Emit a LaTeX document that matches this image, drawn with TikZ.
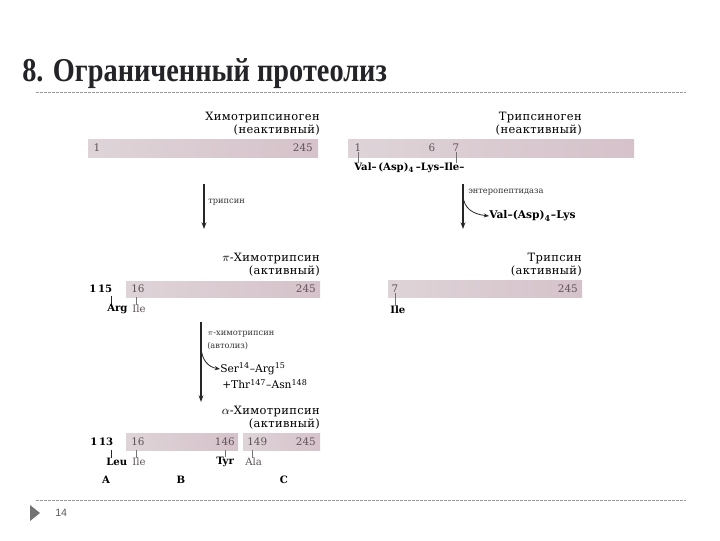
\documentclass[tikz,border=0pt]{standalone}
\usepackage{fontspec}
\setmainfont{DejaVu Serif}
\newfontfamily\titlefont{Liberation Serif}
\newfontfamily\labfont{DejaVu Serif}[LetterSpace=3]
\newfontfamily\pgfont{Liberation Sans}
\usetikzlibrary{arrows.meta}
\definecolor{barl}{RGB}{222,212,216}
\definecolor{barr}{RGB}{214,194,202}
\definecolor{numc}{RGB}{95,82,88}
\definecolor{titc}{RGB}{35,35,40}
\begin{document}
\begin{tikzpicture}[x=0.75pt,y=-0.75pt,
  lab/.style={font={\labfont\fontsize{8.6pt}{9pt}\selectfont}, inner sep=0pt, text=black},
  sm/.style={font={\fontsize{6.2pt}{7pt}\selectfont}, inner sep=0pt, text=black!80},
  num/.style={font={\fontsize{7.8pt}{8pt}\selectfont}, inner sep=0pt, text=numc},
  aa/.style={font={\bfseries\fontsize{7.6pt}{8pt}\selectfont}, inner sep=0pt, text=black},
  aag/.style={font={\fontsize{7.6pt}{8pt}\selectfont}, inner sep=0pt, text=numc},
  prod/.style={font={\fontsize{8pt}{9pt}\selectfont}, inner sep=0pt, text=black},
  tick/.style={draw=black!55, line width=0.5pt},
  arr/.style={draw=black!85, line width=0.8pt, -{Stealth[length=5pt,width=3.6pt]}},
  brarr/.style={draw=black!85, line width=0.6pt, -{Stealth[length=4pt,width=3pt]}},
  dashlin/.style={draw=black!40, line width=0.5pt, dash pattern=on 2pt off 1pt},
  barfill/.style={left color=barl, right color=barr}]
\fill[white] (0,0) rectangle (720,540);
\useasboundingbox (0,0) rectangle (720,540);

% title and rules
\node[anchor=base west, inner sep=0pt, text=titc] (title) at (22,81)
  {\scalebox{0.85}[1]{\titlefont\bfseries\fontsize{25pt}{26pt}\selectfont 8. Ограниченный протеолиз}};
\draw[dashlin] (36,92) -- (686,92);
\draw[dashlin] (36,500) -- (686,500);
\fill[black!55] (30,505) -- (30,521) -- (40,513) -- cycle;
\node[anchor=west, inner sep=0pt, text=black!65, font={\pgfont\fontsize{8pt}{9pt}\selectfont}] (pg) at (55,513) {14};

% ---------- chymotrypsinogen ----------
\node[lab, anchor=base east] (chgA) at (320,120) {Химотрипсиноген};
\node[lab, anchor=base east] (chgB) at (320,133) {(неактивный)};
\path[barfill] (88,139) rectangle (318,157);
\node[num] (c1) at (97,148) {1};
\node[num, anchor=east] (c245) at (313,148) {245};

% ---------- trypsinogen ----------
\node[lab, anchor=base east] (tgA) at (582,120) {Трипсиноген};
\node[lab, anchor=base east] (tgB) at (582,133) {(неактивный)};
\path[barfill] (348,139) rectangle (634,157);
\node[num] (t1) at (358,148) {1};
\node[num] (t6) at (432,148) {6};
\node[num] (t7) at (456,148) {7};
\node[aa, anchor=west] (val) at (354,168) {Val–\,(Asp)\textsubscript{4}\,–Lys–Ile–};
\draw[tick] (t1.south) -- (t1.south |- val.north);
\draw[tick] (t7.south) -- (t7.south |- val.north);

% enteropeptidase step
\coordinate (e1) at (463,184);
\coordinate (e2) at (463,229);
\coordinate (eb) at (463,196);
\draw[arr] (e1) -- (e2);
\node[sm, anchor=west] (ent) at (468,192) {энтеропептидаза};
\node[aa, anchor=west, font={\bfseries\fontsize{8pt}{9pt}\selectfont}] (vl) at (489,216) {Val–(Asp)\textsubscript{4}–Lys};
\draw[brarr] (eb) .. controls (464,208) and (472,214) .. (vl.west);

% trypsin step
\coordinate (a1) at (204,184);
\coordinate (a2) at (204,229);
\draw[arr] (a1) -- (a2);
\node[sm, anchor=west] (tr) at (208,202) {трипсин};

% ---------- pi-chymotrypsin ----------
\node[lab, anchor=base east] (piA) at (320,261) {$\pi$-Химотрипсин};
\node[lab, anchor=base east] (piB) at (320,274) {(активный)};
\path[barfill] (126,281) rectangle (320,297);
\node[aa, anchor=west] (p115) at (89,289) {1\,15};
\node[num, anchor=west] (p16) at (131,289) {16};
\node[num, anchor=east] (p245) at (316,289) {245};
\node[aa, anchor=west] (arg) at (107,309) {Arg};
\node[aag, anchor=west] (pile) at (132,309) {Ile};
\coordinate (k1) at (111,296);
\coordinate (k2) at (136,297);
\draw[tick, black!85] (k1) -- (k1 |- arg.north);
\draw[tick] (k2) -- (k2 |- pile.north);

% ---------- trypsin ----------
\node[lab, anchor=base east] (tA) at (582,261) {Трипсин};
\node[lab, anchor=base east] (tB) at (582,274) {(активный)};
\path[barfill] (388,280) rectangle (582,297);
\node[num] (r7) at (395,289) {7};
\node[num, anchor=east] (r245) at (578,289) {245};
\node[aa, anchor=west] (rile) at (390,310) {Ile};
\draw[tick] (r7.south) -- (r7.south |- rile.north);

% autolysis step
\coordinate (b1) at (201,322);
\coordinate (b2) at (201,402);
\coordinate (bb) at (201,348);
\draw[arr] (b1) -- (b2);
\node[sm, anchor=west] (pch) at (207,334) {$\pi$-химотрипсин};
\node[sm, anchor=west] (aut) at (207,346) {(автолиз)};
\node[prod, anchor=west] (ser) at (220,369) {Ser\textsuperscript{14}–Arg\textsuperscript{15}};
\node[prod, anchor=west] (thr) at (222,384) {+Thr\textsuperscript{147}–Asn\textsuperscript{148}};
\draw[brarr] (bb) .. controls (202,360) and (208,367) .. (ser.west);

% ---------- alpha-chymotrypsin ----------
\node[lab, anchor=base east] (alA) at (320,414) {$\alpha$-Химотрипсин};
\node[lab, anchor=base east] (alB) at (320,427) {(активный)};
\path[barfill] (126,433) rectangle (238,450);
\path[barfill] (243,433) rectangle (320,450);
\node[aa, anchor=west] (q113) at (90,442) {1\,13};
\node[num, anchor=west] (q16) at (131,442) {16};
\node[num, anchor=east] (q146) at (235,442) {146};
\node[num, anchor=west] (q149) at (247,442) {149};
\node[num, anchor=east] (q245) at (316,442) {245};
\node[aa, anchor=west] (leu) at (106,462) {Leu};
\node[aag, anchor=west] (qile) at (132,462) {Ile};
\node[aa, anchor=west] (tyr) at (216,462) {Tyr};
\node[aag, anchor=west] (ala) at (245,462) {Ala};
\coordinate (m1) at (111,450);
\coordinate (m2) at (136,450);
\coordinate (m3) at (225,450);
\coordinate (m4) at (252,450);
\draw[tick, black!85] (m1) -- (m1 |- leu.north);
\draw[tick] (m2) -- (m2 |- qile.north);
\draw[tick] (m3) -- (m3 |- tyr.north);
\draw[tick] (m4) -- (m4 |- ala.north);
\node[aa] (lA) at (106,480) {A};
\node[aa] (lB) at (181,480) {B};
\node[aa] (lC) at (284,480) {C};
\end{tikzpicture}
\end{document}
